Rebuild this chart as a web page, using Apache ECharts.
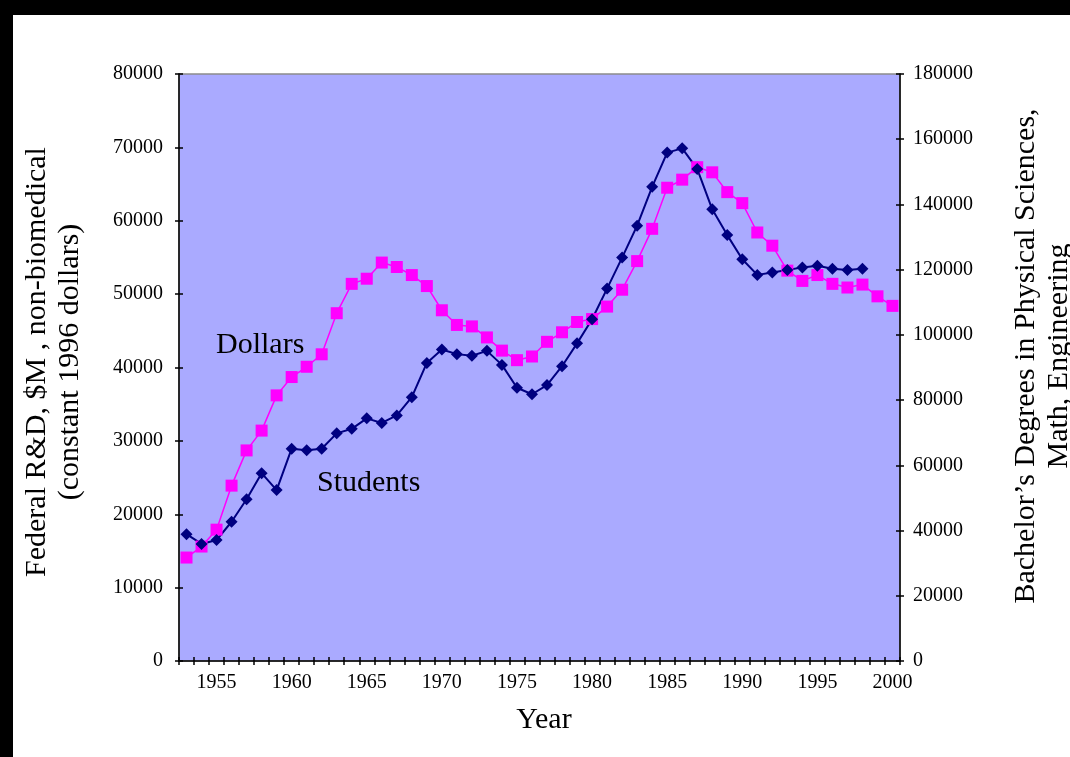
<!DOCTYPE html>
<html>
<head>
<meta charset="utf-8">
<title>Federal R&amp;D and Bachelor's Degrees</title>
<script src="https://cdn.jsdelivr.net/npm/echarts@6/dist/echarts.min.js"></script>
<style>
  html, body { margin: 0; padding: 0; background: #ffffff; }
  #chart { width: 1070px; height: 757px; }
</style>
</head>
<body>
<div id="chart"></div>
<script>
// Years on the category axis
const years = [];
for (let y = 1953; y <= 2000; y++) years.push(String(y));

// Federal R&D, $M non-biomedical (constant 1996 dollars) — left axis
const dollars = [
  14100, 15600, 17900, 23900, 28700, 31400, 36200, 38700, 40100, 41800,
  47400, 51400, 52100, 54300, 53700, 52600, 51100, 47800, 45800, 45600,
  44100, 42300, 41000, 41500, 43500, 44800, 46200, 46600, 48300, 50600,
  54500, 58900, 64500, 65600, 67300, 66600, 63900, 62400, 58400, 56600,
  53200, 51800, 52600, 51400, 50900, 51300, 49700, 48400
];

// Bachelor's degrees in physical sciences, math, engineering — right axis
const students = [
  38900, 35900, 37100, 42700, 49600, 57600, 52400, 65100, 64600, 65100,
  69800, 71200, 74400, 73000, 75300, 80900, 91400, 95500, 94100, 93600,
  95100, 90800, 83800, 81800, 84600, 90400, 97400, 104800, 114200, 123700,
  133500, 145400, 155900, 157200, 150900, 138500, 130600, 123200, 118400, 119100,
  119900, 120700, 121200, 120300, 119900, 120300, null, null
];

const leftTitle = 'Federal R&D, $M , non-biomedical\n(constant 1996 dollars)';
const rightTitle = 'Bachelor\u2019s Degrees in Physical Sciences,\nMath, Engineering';
const xTitle = 'Year';
const FONT = "'Liberation Serif', 'Times New Roman', serif";

const chart = echarts.init(document.getElementById('chart'), null, { renderer: 'canvas' });

const axisLine = { show: true, lineStyle: { color: '#000000', width: 1.5 } };
const tickOut = { show: true, length: 4, inside: false, lineStyle: { color: '#000000', width: 1.5 } };
const tickIn = { show: true, length: 4, inside: true, lineStyle: { color: '#000000', width: 1.5 } };
const labelStyle = { color: '#000000', fontFamily: FONT, fontSize: 20 };

chart.setOption({
  backgroundColor: '#ffffff',
  animation: false,
  grid: {
    left: 179, right: 170, top: 74, bottom: 96,
    show: true, backgroundColor: '#AAAAFF', borderColor: '#8c8c8c', borderWidth: 1.5
  },
  xAxis: [
    {
      type: 'category', data: years, boundaryGap: true, position: 'bottom',
      axisLine: axisLine,
      axisTick: Object.assign({ interval: 0, alignWithLabel: false }, tickOut),
      axisLabel: Object.assign({ margin: 12, interval: function (i, v) { return Number(v) % 5 === 0; } }, labelStyle),
      splitLine: { show: false }
    },
    {
      type: 'category', data: years, boundaryGap: true, position: 'bottom',
      axisLine: { show: false },
      axisTick: Object.assign({ interval: 0, alignWithLabel: false }, tickIn),
      axisLabel: { show: false }, splitLine: { show: false }
    }
  ],
  yAxis: [
    {
      type: 'value', position: 'left', min: 0, max: 80000, interval: 10000,
      axisLine: axisLine, axisTick: tickOut,
      axisLabel: Object.assign({ margin: 16, formatter: function (v) { return String(v); } }, labelStyle),
      splitLine: { show: false }
    },
    {
      type: 'value', position: 'right', min: 0, max: 180000, interval: 20000,
      axisLine: axisLine, axisTick: tickOut,
      axisLabel: Object.assign({ margin: 13, formatter: function (v) { return String(v); } }, labelStyle),
      splitLine: { show: false }
    },
    {
      type: 'value', position: 'left', min: 0, max: 80000, interval: 10000,
      axisLine: { show: false }, axisTick: tickIn, axisLabel: { show: false }, splitLine: { show: false }
    },
    {
      type: 'value', position: 'right', min: 0, max: 180000, interval: 20000,
      axisLine: { show: false }, axisTick: tickIn, axisLabel: { show: false }, splitLine: { show: false }
    }
  ],
  series: [
    {
      name: 'Dollars', type: 'line', xAxisIndex: 0, yAxisIndex: 0, data: dollars,
      symbol: 'rect', symbolSize: 12, showAllSymbol: true,
      lineStyle: { color: '#FF00FF', width: 1.5 },
      itemStyle: { color: '#FF00FF' }
    },
    {
      name: 'Students', type: 'line', xAxisIndex: 0, yAxisIndex: 1, data: students,
      symbol: 'diamond', symbolSize: 12, showAllSymbol: true, connectNulls: false,
      lineStyle: { color: '#000080', width: 2 },
      itemStyle: { color: '#000080' }
    }
  ],
  graphic: [
    // dark frame along the top and left edges
    { type: 'rect', left: 0, top: 0, shape: { width: 1070, height: 15 }, style: { fill: '#000000' }, silent: true },
    { type: 'rect', left: 0, top: 0, shape: { width: 13, height: 757 }, style: { fill: '#000000' }, silent: true },
    // axis titles
    {
      type: 'text', x: 54, y: 362, rotation: Math.PI / 2,
      style: { text: leftTitle, font: '30px ' + FONT, fill: '#000000', align: 'center', verticalAlign: 'middle', lineHeight: 33 }
    },
    {
      type: 'text', x: 1043, y: 356, rotation: Math.PI / 2,
      style: { text: rightTitle, font: '30px ' + FONT, fill: '#000000', align: 'center', verticalAlign: 'middle', lineHeight: 33 }
    },
    {
      type: 'text', x: 544, y: 720,
      style: { text: xTitle, font: '30px ' + FONT, fill: '#000000', align: 'center', verticalAlign: 'middle' }
    },
    // series annotations
    {
      type: 'text', x: 216, y: 345,
      style: { text: 'Dollars', font: '30px ' + FONT, fill: '#000000', align: 'left', verticalAlign: 'middle' }
    },
    {
      type: 'text', x: 317, y: 483,
      style: { text: 'Students', font: '30px ' + FONT, fill: '#000000', align: 'left', verticalAlign: 'middle' }
    }
  ]
});
</script>
</body>
</html>
